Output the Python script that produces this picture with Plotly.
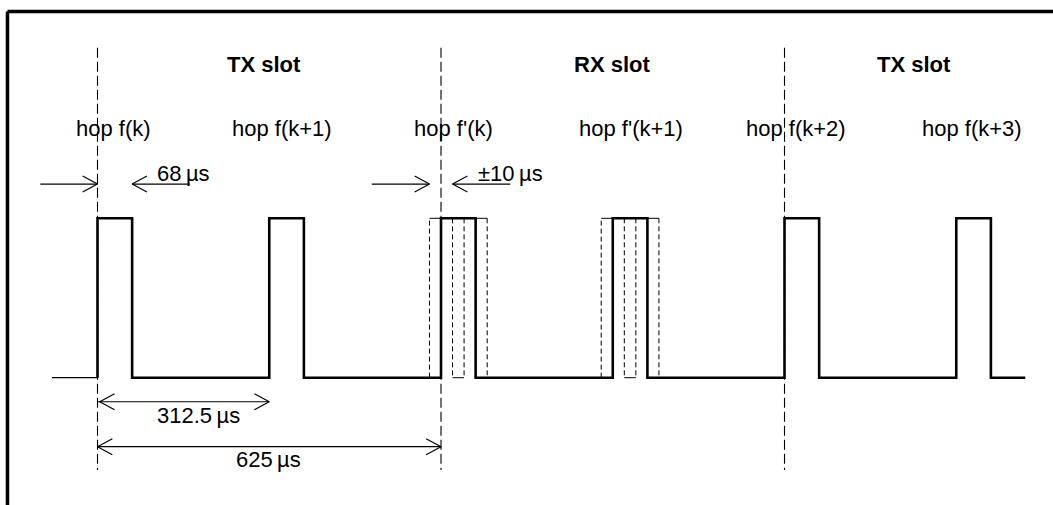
import plotly.graph_objects as go

# ---------------- data (time in microseconds, level 0 = low, 1 = high) ----------------
slot_starts_us = [0, 625, 1250]
slot_titles = ["TX slot", "RX slot", "TX slot"]
slot_title_x_us = [303, 937, 1486]

pulse_starts_us = [0, 312.5, 625, 937.5, 1250, 1562.5]
pulse_width_us = 63
rx_pulse_index = [2, 3]
rx_jitter_us = 21

signal_lead_in_us = -83
signal_end_us = 1688

hop_labels = ["hop f(k)", "hop f(k+1)", "hop f'(k)", "hop f'(k+1)", "hop f(k+2)", "hop f(k+3)"]
hop_label_x_us = [29, 335, 647, 970, 1271, 1592]

dim_labels = ["68\u2009µs", "±10\u2009µs", "312.5\u2009µs", "625\u2009µs"]
dim_label_x_us = [156, 752, 183, 312]

# ---------------- layout constants ----------------
Y_LOW, Y_HIGH = 0.0, 1.0
Y_HOP = 1.566
Y_TITLE = 1.968
Y_TOP_ARROW = 1.215
Y_TOP_ARROW_LABEL = 1.284
Y_DIM1 = -0.151
Y_DIM1_LABEL = -0.234
Y_DIM2 = -0.433
Y_DIM2_LABEL = -0.516
Y_SLOT_TOP = 2.07
Y_SLOT_BOTTOM = -0.579
HEAD_LEN = 27.0
HEAD_HALF = 0.05
FONT = "Liberation Sans, Arial, sans-serif"

fig = go.Figure()


def line(xs, ys, width=1.2, dash="solid", color="black"):
    fig.add_trace(go.Scatter(x=xs, y=ys, mode="lines",
                             line=dict(color=color, width=width, dash=dash),
                             hoverinfo="skip", showlegend=False))


def vhead(x_tip, y, direction):
    d = 1 if direction == "right" else -1
    line([x_tip - d * HEAD_LEN, x_tip, x_tip - d * HEAD_LEN],
         [y + HEAD_HALF, y, y - HEAD_HALF], width=1.2)


# slot boundary dashed lines
for xs in slot_starts_us:
    line([xs, xs], [Y_SLOT_TOP, Y_SLOT_BOTTOM], width=1.1, dash="10px,4px")

# thin lead-in of the signal
line([signal_lead_in_us, pulse_starts_us[0]], [Y_LOW, Y_LOW], width=1.2)

# main signal
sx, sy = [], []
for p in pulse_starts_us:
    sx += [p, p, p + pulse_width_us, p + pulse_width_us]
    sy += [Y_LOW, Y_HIGH, Y_HIGH, Y_LOW]
sx.append(signal_end_us)
sy.append(Y_LOW)
line(sx, sy, width=2.6)

# RX timing uncertainty windows
for i in rx_pulse_index:
    p = pulse_starts_us[i]
    e_start, e_end = p - rx_jitter_us, p + pulse_width_us - rx_jitter_us
    l_start, l_end = p + rx_jitter_us, p + pulse_width_us + rx_jitter_us
    # early window (left edge + top)
    line([e_start, e_start], [Y_LOW, Y_HIGH], width=1.0, dash="5px,3px")
    line([e_start, p], [Y_HIGH, Y_HIGH], width=1.0)
    # inner box between late start and early end
    line([l_start, l_start], [Y_HIGH, Y_LOW], width=1.0, dash="5px,3px")
    line([e_end, e_end], [Y_HIGH, Y_LOW], width=1.0, dash="5px,3px")
    line([l_start, e_end], [Y_LOW, Y_LOW], width=1.0)
    # late window (top + right edge)
    line([p + pulse_width_us, l_end], [Y_HIGH, Y_HIGH], width=1.0)
    line([l_end, l_end], [Y_HIGH, Y_LOW], width=1.0, dash="5px,3px")

# 68 us arrows (pointing inward at pulse edges)
p0 = pulse_starts_us[0]
line([-104, p0], [Y_TOP_ARROW, Y_TOP_ARROW])
vhead(p0, Y_TOP_ARROW, "right")
line([p0 + pulse_width_us, 168], [Y_TOP_ARROW, Y_TOP_ARROW])
vhead(p0 + pulse_width_us, Y_TOP_ARROW, "left")

# +-10 us arrows
p2 = pulse_starts_us[2]
line([499, p2 - rx_jitter_us], [Y_TOP_ARROW, Y_TOP_ARROW])
vhead(p2 - rx_jitter_us, Y_TOP_ARROW, "right")
line([p2 + rx_jitter_us, 751], [Y_TOP_ARROW, Y_TOP_ARROW])
vhead(p2 + rx_jitter_us, Y_TOP_ARROW, "left")

# 312.5 us dimension
line([p0, pulse_starts_us[1]], [Y_DIM1, Y_DIM1])
vhead(p0 + 4, Y_DIM1, "left")
vhead(pulse_starts_us[1], Y_DIM1, "right")

# 625 us dimension
line([slot_starts_us[0], slot_starts_us[1]], [Y_DIM2, Y_DIM2])
vhead(slot_starts_us[0], Y_DIM2, "left")
vhead(slot_starts_us[1], Y_DIM2, "right")

annotations = []
for t, x in zip(slot_titles, slot_title_x_us):
    annotations.append(dict(x=x, y=Y_TITLE, text="<b>" + t + "</b>"))
for t, x in zip(hop_labels, hop_label_x_us):
    annotations.append(dict(x=x, y=Y_HOP, text=t))
dim_y = [Y_TOP_ARROW_LABEL, Y_TOP_ARROW_LABEL, Y_DIM1_LABEL, Y_DIM2_LABEL]
for t, x, y in zip(dim_labels, dim_label_x_us, dim_y):
    annotations.append(dict(x=x, y=y, text=t))
for a in annotations:
    a.update(xref="x", yref="y", showarrow=False, xanchor="center", yanchor="middle",
             font=dict(family=FONT, size=22, color="black"))

# frame (top and left edges)
shapes = [
    dict(type="line", xref="paper", yref="paper", x0=0.0071, x1=1.0, y0=0.9772, y1=0.9772,
         line=dict(color="black", width=3.5)),
    dict(type="line", xref="paper", yref="paper", x0=0.0071, x1=0.0071, y0=0.0, y1=0.9772,
         line=dict(color="black", width=3.5)),
]

fig.update_layout(
    width=1053, height=505,
    margin=dict(l=0, r=0, t=0, b=0),
    paper_bgcolor="white", plot_bgcolor="white",
    xaxis=dict(range=[-177.4, 1738.5], visible=False, fixedrange=True),
    yaxis=dict(range=[-0.7986, 2.3695], visible=False, fixedrange=True),
    annotations=annotations, shapes=shapes, showlegend=False,
    font=dict(family=FONT),
)

fig.write_html(
    "out.html",
    config={"displayModeBar": False},
    post_script="document.body.style.margin='0';document.body.style.overflow='hidden';",
)
